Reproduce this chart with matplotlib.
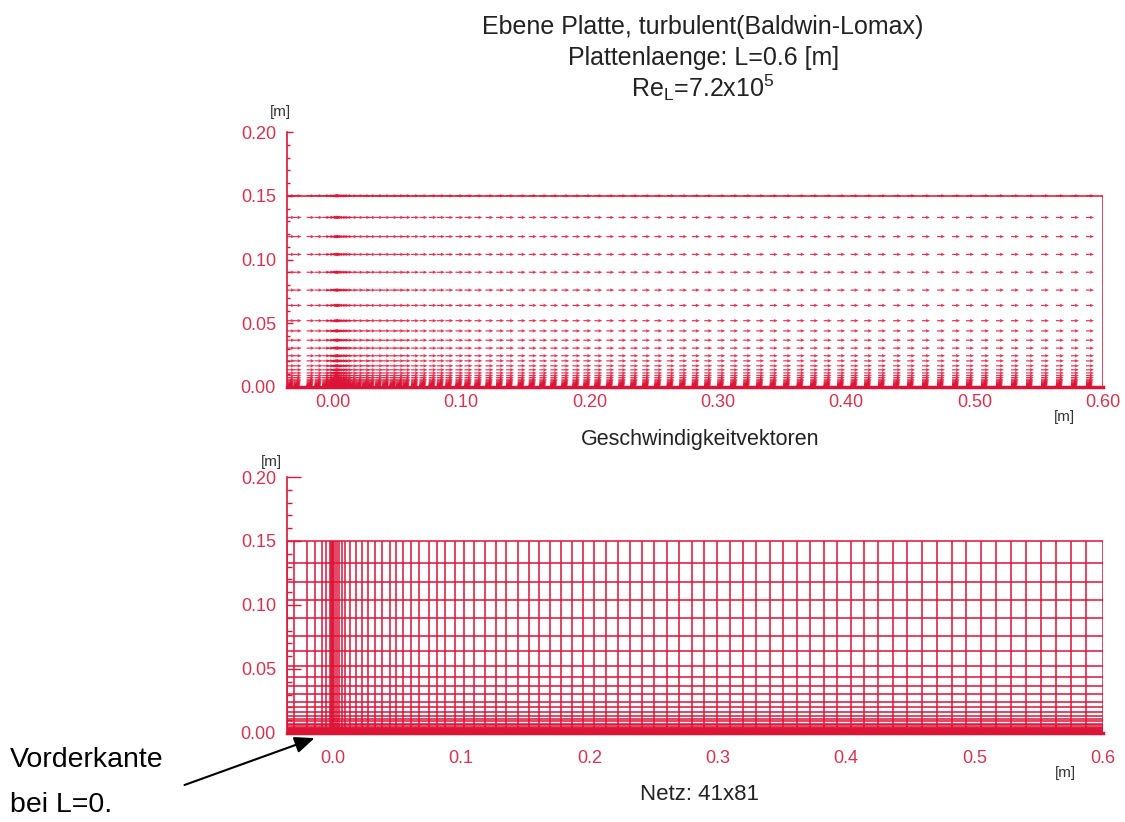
import numpy as np
import matplotlib
matplotlib.use('Agg')
import matplotlib.pyplot as plt
from matplotlib.ticker import MultipleLocator

plt.rcParams['font.family'] = ['Liberation Sans', 'DejaVu Sans']
plt.rcParams['mathtext.fontset'] = 'custom'
plt.rcParams['mathtext.rm'] = 'Liberation Sans'
plt.rcParams['mathtext.it'] = 'Liberation Sans:italic'

# mesh lines in x (81), clustered at the leading edge x=0
x_lines = [-0.0355, -0.0303, -0.0202, -0.0140, -0.0080, -0.0049, -0.0023, -0.0012, -0.0004,
           0.0, 0.0004, 0.0016, 0.0031, 0.0051, 0.0070, 0.0093, 0.0132, 0.0179, 0.0231,
           0.0275, 0.0332, 0.0387, 0.0444, 0.0496, 0.0547, 0.0612, 0.0677, 0.0749, 0.0812,
           0.0879, 0.0957, 0.1027, 0.1105, 0.1191, 0.1274, 0.1352, 0.1442, 0.1528, 0.1611,
           0.1696, 0.1782, 0.1868, 0.1953, 0.2039, 0.2132, 0.2226, 0.2319, 0.2412, 0.2506,
           0.2603, 0.2700, 0.2798, 0.2895, 0.2996, 0.3097, 0.3198, 0.3300, 0.3405, 0.3510,
           0.3615, 0.3720, 0.3825, 0.3930, 0.4035, 0.4140, 0.4249, 0.4366, 0.4475, 0.4591,
           0.4708, 0.4825, 0.4934, 0.5051, 0.5167, 0.5284, 0.5401, 0.5518, 0.5634, 0.5751,
           0.5868, 0.6]

# mesh lines in y (41), clustered at the wall
y_lines = [0.0, 0.00003, 0.00007, 0.0001, 0.00015, 0.0002, 0.00025, 0.0003, 0.0004, 0.0005,
           0.0006, 0.0007, 0.0009, 0.0010, 0.0013, 0.0015, 0.0019, 0.0023, 0.0028, 0.0034,
           0.0041, 0.0050, 0.0061, 0.0074, 0.0090, 0.011, 0.0135, 0.0166, 0.0205, 0.0245,
           0.0305, 0.0367, 0.044, 0.052, 0.064, 0.076, 0.090, 0.104, 0.118, 0.133, 0.15]

# u/U for each row of nodes (wall -> outer boundary)
u_profile = [0.0, 0.35, 0.45, 0.50, 0.55, 0.58, 0.60, 0.62, 0.65, 0.68,
             0.70, 0.72, 0.74, 0.76, 0.78, 0.80, 0.83, 0.85, 0.87, 0.89,
             0.91, 0.93, 0.95, 0.97, 0.99, 1.0, 1.0, 1.0, 1.0, 1.0,
             1.0, 1.0, 1.0, 1.0, 1.0, 1.0, 1.0, 1.0, 1.0, 1.0, 1.0]

x_ticks = [0.0, 0.1, 0.2, 0.3, 0.4, 0.5, 0.6]
top_xlabels = ['0.00', '0.10', '0.20', '0.30', '0.40', '0.50', '0.60']
bot_xlabels = ['0.0', '0.1', '0.2', '0.3', '0.4', '0.5', '0.6']
y_ticks = [0.0, 0.05, 0.10, 0.15, 0.20]
y_labels = ['0.00', '0.05', '0.10', '0.15', '0.20']

red = '#dc1437'
lab_red = '#d23550'
grey = '#333333'

fig = plt.figure(figsize=(11.25, 8.22), dpi=100)
ax1 = fig.add_axes([0.2551, 0.5292, 0.7253, 0.3102])
ax2 = fig.add_axes([0.2551, 0.1083, 0.7253, 0.3114])


def style_axis(ax, xlabels, major_len, minor_len, xpad):
    ax.set_xlim(x_lines[0], x_lines[-1])
    ax.set_ylim(0, 0.2)
    for s in ['top', 'right', 'bottom']:
        ax.spines[s].set_visible(False)
    ax.spines['left'].set_color(red)
    ax.spines['left'].set_linewidth(1.2)
    ax.set_yticks(y_ticks)
    ax.set_yticklabels(y_labels)
    ax.yaxis.set_minor_locator(MultipleLocator(0.01))
    ax.tick_params(axis='y', which='major', direction='in', length=major_len, width=1,
                   color=red, labelcolor=lab_red, labelsize=13, pad=8)
    ax.tick_params(axis='y', which='minor', direction='in', length=minor_len, width=1, color=red)
    ax.set_xticks(x_ticks)
    ax.set_xticklabels(xlabels)
    ax.tick_params(axis='x', length=0, labelcolor=lab_red, labelsize=13, pad=xpad)


# top: velocity vectors at the mesh nodes
X, Y = np.meshgrid(x_lines, y_lines)
U = np.tile(np.array(u_profile)[:, None], (1, len(x_lines)))
V = np.zeros_like(U)
ax1.quiver(X, Y, U, V, angles='xy', scale_units='xy', scale=1 / 0.0062, units='dots',
           width=1.2, headwidth=3, headlength=3.5, headaxislength=3, color=red, alpha=0.85)
ax1.plot([x_lines[0], x_lines[-1], x_lines[-1]], [y_lines[-1], y_lines[-1], y_lines[0]],
         color=red, lw=1.1)
ax1.plot([x_lines[0], x_lines[-1]], [y_lines[0], y_lines[0]], color=red, lw=2.5, clip_on=False)
style_axis(ax1, top_xlabels, 4.5, 2.2, 5)

# bottom: the mesh itself
ax2.vlines(x_lines, y_lines[0], y_lines[-1], color=red, lw=1.1)
ax2.hlines(y_lines, x_lines[0], x_lines[-1], color=red, lw=1.1)
ax2.plot([x_lines[0], x_lines[-1]], [y_lines[0], y_lines[0]], color=red, lw=2.5, clip_on=False)
style_axis(ax2, bot_xlabels, 10, 3.5, 12)

# titles and labels
fig.text(0.625, 0.967, 'Ebene Platte, turbulent(Baldwin-Lomax)', ha='center', va='center',
         fontsize=18, color='#222222')
fig.text(0.625, 0.929, 'Plattenlaenge: L=0.6 [m]', ha='center', va='center',
         fontsize=18, color='#222222')
fig.text(0.625, 0.893, r'Re$_{\mathrm{L}}$=7.2x10$^{\mathrm{5}}$', ha='center', va='center',
         fontsize=18, color='#222222')
fig.text(0.622, 0.465, 'Geschwindigkeitvektoren', ha='center', va='center',
         fontsize=15.5, color='#222222')
fig.text(0.622, 0.033, 'Netz: 41x81', ha='center', va='center', fontsize=16, color='#222222')

fig.text(0.249, 0.864, '[m]', ha='center', va='center', fontsize=11, color=grey)
fig.text(0.241, 0.438, '[m]', ha='center', va='center', fontsize=11, color=grey)
fig.text(0.946, 0.493, '[m]', ha='center', va='center', fontsize=11, color=grey)
fig.text(0.947, 0.060, '[m]', ha='center', va='center', fontsize=11, color=grey)

fig.text(0.009, 0.075, 'Vorderkante', ha='left', va='center', fontsize=20.5, color='black')
fig.text(0.009, 0.021, 'bei L=0.', ha='left', va='center', fontsize=20.5, color='black')
ax2.annotate('', xy=(-0.014, -0.004), xycoords='data', xytext=(0.164, 0.045),
             textcoords='figure fraction', annotation_clip=False,
             arrowprops=dict(arrowstyle='-|>,head_length=0.6,head_width=0.25', color='black',
                             lw=1.5, mutation_scale=20, shrinkA=0, shrinkB=0))

plt.savefig('out.png', dpi=100)
